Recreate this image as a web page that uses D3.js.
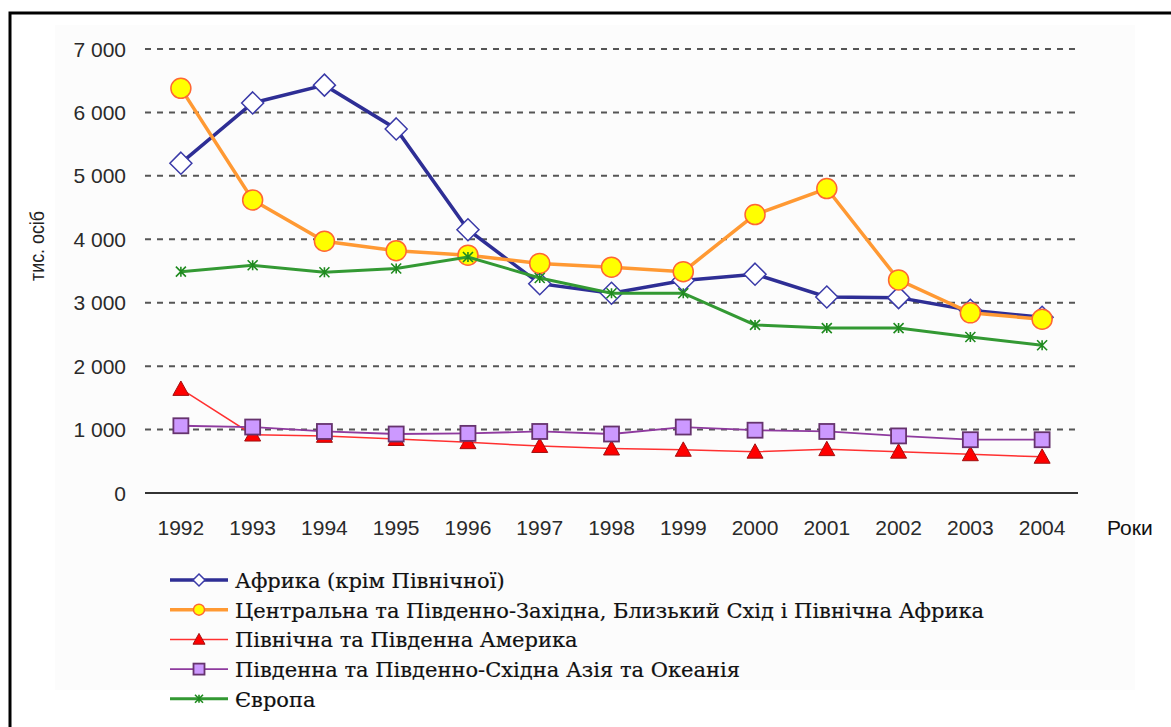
<!DOCTYPE html>
<html>
<head>
<meta charset="utf-8">
<script src="https://cdn.jsdelivr.net/npm/d3@7"></script>
<style>
  body { margin: 0; background: #fff; }
  svg { display: block; }
</style>
</head>
<body>
<div id="chart"></div>
<script>
// years along the x axis
var years = ["1992","1993","1994","1995","1996","1997","1998","1999","2000","2001","2002","2003","2004"];
var yTicks = [0, 1000, 2000, 3000, 4000, 5000, 6000, 7000];

// values, thousands of people
var africa   = [5200, 6150, 6430, 5740, 4150, 3300, 3150, 3350, 3450, 3090, 3080, 2880, 2770];
var central  = [6380, 4620, 3970, 3820, 3750, 3620, 3560, 3490, 4390, 4800, 3360, 2840, 2740];
var americas = [1640, 920, 900, 850, 800, 740, 700, 680, 650, 690, 650, 610, 570];
var asia     = [1060, 1040, 970, 930, 940, 970, 930, 1040, 990, 970, 900, 840, 840];
var europe   = [3490, 3590, 3480, 3540, 3720, 3390, 3150, 3150, 2650, 2600, 2600, 2460, 2330];

var names = [
    "Африка (крім Північної)",
    "Центральна та Південно-Західна, Близький Схід і Північна Африка",
    "Північна та Південна Америка",
    "Південна та Південно-Східна Азія та Океанія",
    "Європа"
];

var width = 1171;
var height = 727;

var series = [
    {name: names[0], values: africa,   line: "#2e2e95", lw: 3.5, marker: "diamond"},
    {name: names[1], values: central,  line: "#ff9933", lw: 3.5, marker: "circle"},
    {name: names[2], values: americas, line: "#ff3030", lw: 1.5, marker: "triangle"},
    {name: names[3], values: asia,     line: "#8e3a9e", lw: 1.8, marker: "square"},
    {name: names[4], values: europe,   line: "#339933", lw: 3,   marker: "star"}
];

var svg = d3.select("#chart")
    .append("svg")
    .attr("width", width)
    .attr("height", height);

//faint grey panel behind the chart
svg.append("rect")
    .attr("x", 55).attr("y", 25)
    .attr("width", 1080).attr("height", 665)
    .attr("fill", "#fcfcfc");

//black frame, right and bottom edges run off the picture
svg.append("rect")
    .attr("x", 10).attr("y", 13)
    .attr("width", 1200).attr("height", 760)
    .attr("fill", "none")
    .attr("stroke", "#000")
    .attr("stroke-width", 3);

var x = d3.scaleBand().domain(years).range([145, 1078]);
var y = d3.scaleLinear().domain([0, 7000]).range([493, 49]);
var cx = d => x(d) + x.bandwidth() / 2;

//dashed gridlines
svg.selectAll(".grid")
    .data(yTicks.filter(t => t > 0))
    .enter().append("line")
    .attr("class", "grid")
    .attr("x1", 145).attr("x2", 1078)
    .attr("y1", d => y(d)).attr("y2", d => y(d))
    .attr("stroke", "#555")
    .attr("stroke-width", 2)
    .attr("stroke-dasharray", "6,6");

//base line at zero
svg.append("line")
    .attr("x1", 145).attr("x2", 1078)
    .attr("y1", y(0)).attr("y2", y(0))
    .attr("stroke", "#333")
    .attr("stroke-width", 2);

var fmt = v => v == 0 ? "0" : d3.format(",")(v).replace(",", " ");

svg.selectAll(".ytick")
    .data(yTicks)
    .enter().append("text")
    .attr("class", "ytick")
    .attr("x", 126)
    .attr("y", d => y(d))
    .attr("dy", "0.36em")
    .style("text-anchor", "end")
    .style("font-family", "Arial, 'Liberation Sans', sans-serif")
    .style("font-size", "21px")
    .attr("fill", "#2a2a2a")
    .text(fmt);

svg.selectAll(".xtick")
    .data(years)
    .enter().append("text")
    .attr("class", "xtick")
    .attr("x", d => cx(d))
    .attr("y", 535)
    .style("text-anchor", "middle")
    .style("font-family", "Arial, 'Liberation Sans', sans-serif")
    .style("font-size", "21px")
    .attr("fill", "#2a2a2a")
    .text(d => d);

svg.append("text")
    .attr("x", 1107)
    .attr("y", 535)
    .style("font-family", "Arial, 'Liberation Sans', sans-serif")
    .style("font-size", "21px")
    .attr("fill", "#111")
    .text("Роки");

svg.append("text")
    .attr("transform", "translate(44,246) rotate(-90)")
    .style("text-anchor", "middle")
    .style("font-family", "Arial, 'Liberation Sans', sans-serif")
    .style("font-size", "21px")
    .attr("textLength", 70)
    .attr("lengthAdjust", "spacingAndGlyphs")
    .attr("fill", "#222")
    .text("тис. осіб");

//markers
function drawMarker(g, type, px, py, s) {
    if (type == "diamond") {
        g.append("path")
            .attr("d", "M" + px + "," + (py - s) + "L" + (px + s) + "," + py + "L" + px + "," + (py + s) + "L" + (px - s) + "," + py + "Z")
            .attr("fill", "#fff")
            .attr("stroke", "#3a3aa8")
            .attr("stroke-width", 1.5);
    }
    else if (type == "circle") {
        g.append("circle")
            .attr("cx", px).attr("cy", py).attr("r", s)
            .attr("fill", "#ffff00")
            .attr("stroke", "#ff6633")
            .attr("stroke-width", 1.5);
    }
    else if (type == "triangle") {
        g.append("path")
            .attr("d", "M" + px + "," + (py - s) + "L" + (px + s) + "," + (py + s * 0.8) + "L" + (px - s) + "," + (py + s * 0.8) + "Z")
            .attr("fill", "#ff0000")
            .attr("stroke", "#a01010")
            .attr("stroke-width", 1);
    }
    else if (type == "square") {
        g.append("rect")
            .attr("x", px - s).attr("y", py - s)
            .attr("width", 2 * s).attr("height", 2 * s)
            .attr("fill", "#cc99ff")
            .attr("stroke", "#66336e")
            .attr("stroke-width", 1.8);
    }
    else {//asterisk
        g.append("path")
            .attr("d", "M" + px + "," + (py - s) + "V" + (py + s) +
                "M" + (px - s) + "," + (py - s) + "L" + (px + s) + "," + (py + s) +
                "M" + (px + s) + "," + (py - s) + "L" + (px - s) + "," + (py + s))
            .attr("stroke", "#1f8a1f")
            .attr("stroke-width", 1.6)
            .attr("fill", "none");
    }
}

var markerSize = {diamond: 11, circle: 10, triangle: 8, square: 7.5, star: 5};

var line = d3.line()
    .x((d, i) => cx(years[i]))
    .y(d => y(d));

series.forEach(s => {
    var g = svg.append("g");
    g.append("path")
        .attr("d", line(s.values))
        .attr("fill", "none")
        .attr("stroke", s.line)
        .attr("stroke-width", s.lw);
    s.values.forEach((v, i) => drawMarker(g, s.marker, cx(years[i]), y(v), markerSize[s.marker]));
});

//legend
var legendSize = {diamond: 6, circle: 5.5, triangle: 6, square: 5.5, star: 4};
series.forEach((s, i) => {
    var ly = 580 + i * 29.7;
    var g = svg.append("g");
    g.append("line")
        .attr("x1", 170).attr("x2", 228)
        .attr("y1", ly).attr("y2", ly)
        .attr("stroke", s.line)
        .attr("stroke-width", s.lw);
    drawMarker(g, s.marker, 199, ly, legendSize[s.marker]);
    g.append("text")
        .attr("x", 235)
        .attr("y", ly + 8)
        .style("font-family", "'DejaVu Serif', serif")
        .style("font-size", "21px")
        .attr("fill", "#111")
        .attr("stroke", "#111")
        .attr("stroke-width", 0.2)
        .text(s.name);
});
</script>
</body>
</html>
